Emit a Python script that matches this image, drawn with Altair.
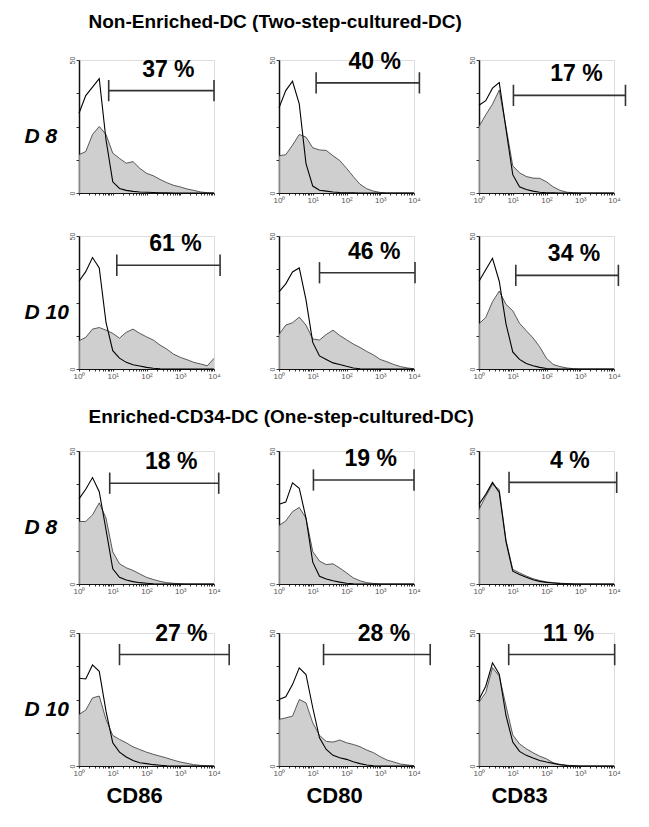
import altair as alt
import pandas as pd

FONT = "Liberation Sans"

# log10 fluorescence bins (10^0 .. 10^4)
LOG_BINS = [0.0, 0.2, 0.4, 0.6, 0.8, 1.0, 1.2, 1.4, 1.6, 1.8, 2.0,
            2.2, 2.4, 2.6, 2.8, 3.0, 3.2, 3.4, 3.6, 3.8, 4.0]

# Non-enriched, D8
ISO_A = [30, 36.6, 39.8, 43, 20, 4.2, 1.7, 1.0, 0.6, 0.4, 0.3, 0.2, 0.1, 0.1, 0, 0, 0, 0, 0, 0, 0]
STAIN_A = [14.4, 15.6, 22, 25, 22, 15, 13, 11.2, 11.8, 9.3, 7.4, 6.5, 5.1, 3.9, 2.9, 2.3, 1.5, 1.0, 0.4, 0.1, 0]
ISO_B = [32, 38.5, 42, 33.5, 11, 2.6, 1.0, 0.7, 0.4, 0.2, 0.1, 0.1, 0, 0, 0, 0, 0, 0, 0, 0, 0]
STAIN_B = [14, 14.4, 18, 22, 21, 17, 16.2, 16, 14, 12.2, 9.3, 6.2, 3.3, 1.6, 0.7, 0.2, 0, 0, 0, 0, 0]
ISO_C = [33, 34.7, 39.4, 41.5, 24, 6.9, 2.3, 1.3, 0.7, 0.3, 0.1, 0.1, 0, 0, 0, 0, 0, 0, 0, 0, 0]
STAIN_C = [25, 29.4, 33.4, 38.7, 24.8, 10.2, 7.6, 6.2, 5.6, 5.5, 4.2, 2.3, 1.0, 0.3, 0.1, 0, 0, 0, 0, 0, 0]
# Non-enriched, D10
ISO_D = [33, 36.6, 41.9, 38, 17.5, 6.9, 4.1, 2.5, 1.6, 1.1, 0.6, 0.3, 0.1, 0, 0, 0, 0, 0, 0, 0, 0]
STAIN_D = [10.6, 11.9, 15, 15.6, 14.6, 13.4, 11.6, 13.8, 15, 13.4, 12.1, 10.9, 9, 7.5, 5.6, 4.4, 3.5, 2.5, 1.9, 1.2, 4]
ISO_E = [29, 32, 36.5, 38, 26, 10, 4.9, 3.6, 2.3, 1.7, 1.0, 0.4, 0.1, 0, 0, 0, 0, 0, 0, 0, 0]
STAIN_E = [13, 16.5, 17.4, 19.5, 16.5, 11.3, 10.9, 13, 14.6, 12.6, 11, 9.4, 8.1, 6.6, 5.3, 3.6, 2.7, 1.7, 0.9, 0.4, 0.1]
ISO_F = [33, 37.3, 41.6, 33, 17, 6.4, 3.6, 2.1, 1.2, 0.6, 0.2, 0.1, 0, 0, 0, 0, 0, 0, 0, 0, 0]
STAIN_F = [17, 19.4, 25.3, 29.3, 24.3, 21.9, 17.2, 14.4, 11.7, 8.3, 4, 1.7, 0.9, 0.4, 0.1, 0, 0, 0, 0, 0, 0]
# Enriched CD34, D8
ISO_G = [32, 35.6, 40, 34.7, 20.4, 5.7, 2.5, 1.5, 0.9, 0.5, 0.3, 0.1, 0, 0, 0, 0, 0, 0, 0, 0, 0]
STAIN_G = [23.5, 23.5, 26, 30.5, 24.8, 12.1, 7.6, 6.1, 5.1, 3.8, 2.5, 1.7, 1.0, 0.5, 0.25, 0.1, 0, 0, 0, 0, 0]
ISO_H = [30, 30.8, 38, 36, 24.8, 8.2, 2.9, 1.9, 1.2, 0.7, 0.3, 0.1, 0, 0, 0, 0, 0, 0, 0, 0, 0]
STAIN_H = [22, 23.7, 27.2, 28.8, 24.8, 12.2, 8.6, 7.3, 7.6, 6, 4.2, 2.3, 1.2, 0.5, 0.2, 0, 0, 0, 0, 0, 0]
ISO_I = [30, 33.7, 38.2, 34.4, 15.9, 4.8, 3.6, 2.5, 1.6, 1.0, 0.6, 0.4, 0.2, 0.1, 0, 0, 0, 0, 0, 0, 0]
STAIN_I = [28, 33, 37.5, 35.5, 16.5, 5.5, 4.2, 3.0, 2.0, 1.3, 0.8, 0.5, 0.3, 0.15, 0.05, 0, 0, 0, 0, 0, 0]
# Enriched CD34, D10
ISO_J = [33, 32.7, 38, 35.6, 20.6, 8.7, 5.2, 3.4, 2.1, 1.2, 0.9, 0.5, 0.3, 0.1, 0, 0, 0, 0, 0, 0, 0]
STAIN_J = [19.4, 21, 25.6, 26.3, 17.5, 11.5, 10, 8.7, 7.2, 6.2, 5.2, 4.4, 3.7, 3, 2.2, 1.5, 1.0, 0.5, 0.25, 0.1, 0]
ISO_K = [25, 26, 30.6, 36.9, 34.4, 21.9, 10.6, 6.2, 4, 3.1, 2.5, 1.6, 0.9, 0.4, 0.1, 0, 0, 0, 0, 0, 0]
STAIN_K = [17.5, 18.1, 18.75, 25, 23.75, 16.25, 11.5, 9.25, 9, 9.75, 8.75, 8.1, 7.25, 6, 5, 3.5, 2.25, 1.5, 0.75, 0.4, 0.1]
ISO_L = [25, 30, 38.8, 34.5, 18.9, 9, 5.5, 4, 3, 2.1, 1.5, 1.0, 0.5, 0.2, 0.1, 0, 0, 0, 0, 0, 0]
STAIN_L = [24, 27.6, 37, 33.8, 22.6, 11.7, 8.3, 6.5, 5, 3.7, 2.7, 1.2, 0.6, 0.3, 0.1, 0, 0, 0, 0, 0, 0]

ISO = [ISO_A, ISO_B, ISO_C, ISO_D, ISO_E, ISO_F, ISO_G, ISO_H, ISO_I, ISO_J, ISO_K, ISO_L]
STAIN = [STAIN_A, STAIN_B, STAIN_C, STAIN_D, STAIN_E, STAIN_F,
         STAIN_G, STAIN_H, STAIN_I, STAIN_J, STAIN_K, STAIN_L]

# marker gates (log10 start, log10 end, count level) and positive percentages
GATE_START = [0.88, 1.10, 1.02, 1.12, 1.20, 1.09, 0.91, 1.02, 0.89, 1.20, 1.32, 0.88]
GATE_END = [4.00, 4.16, 4.34, 4.18, 4.03, 4.13, 4.14, 4.00, 4.08, 4.45, 4.48, 4.02]
GATE_LEVEL = [38.5, 41.4, 36.7, 39.0, 36.2, 35.2, 37.9, 39.1, 38.2, 41.9, 41.9, 41.9]
PERCENT = [37, 40, 17, 61, 46, 34, 18, 19, 4, 27, 28, 11]

ROW_LABELS = ["D 8", "D 10", "D 8", "D 10"]
COL_LABELS = ["CD86", "CD80", "CD83"]
COL_LABEL_X = [55, 55, 40]
SECTION_TITLES = ["Non-Enriched-DC (Two-step-cultured-DC)",
                  "Enriched-CD34-DC (One-step-cultured-DC)"]

W, H = 135, 133
XTICKS = [m * 10 ** k for k in range(4) for m in range(1, 10)] + [10000]
XLABEL = ("datum.value == 1 ? '10\u2070' : datum.value == 10 ? '10\u00b9' : "
          "datum.value == 100 ? '10\u00b2' : datum.value == 1000 ? '10\u00b3' : "
          "datum.value == 10000 ? '10\u2074' : ''")


def panel(i, row, col):
    hist = pd.DataFrame({
        "fi": [10 ** v for v in LOG_BINS],
        "iso": ISO[i],
        "stain": STAIN[i],
    })
    s, e, g = GATE_START[i], GATE_END[i], GATE_LEVEL[i]
    gate = pd.DataFrame({
        "x1": [10 ** s, 10 ** s, 10 ** e],
        "x2": [10 ** e, 10 ** s, 10 ** e],
        "y1": [g, g - 4, g - 4],
        "y2": [g, g + 4, g + 4],
    })
    label = pd.DataFrame({
        "tx": [10 ** ((s + e) / 2)],
        "ty": [g],
        "txt": [f"{PERCENT[i]} %"],
    })

    xaxis_kw = dict(values=XTICKS, labelExpr=XLABEL, tickSize=2, tickColor="#333",
                    domainColor="#111", domainWidth=1, labelFontSize=8,
                    labelColor="#555", labelFont=FONT, labelFlush=False,
                    labelOverlap=False, labelPadding=1, grid=False,
                    labels=not (row == 0 and col == 0))
    if row == 3:
        xaxis_kw.update(title=COL_LABELS[col], titleFont=FONT, titleFontSize=22,
                        titleFontWeight="bold", titleColor="black", titlePadding=8,
                        titleX=COL_LABEL_X[col], titleAlign="center")
    yaxis_kw = dict(values=[0, 12.5, 25, 37.5, 50],
                    labelExpr="datum.value == 0 || datum.value == 50 ? datum.label : ''",
                    labelAngle=270, tickSize=3, tickColor="#333", domainColor="#111",
                    domainWidth=1.5, labelFontSize=7, labelColor="#555", labelFont=FONT,
                    labelPadding=1, grid=False)
    if col == 0:
        yaxis_kw.update(title=ROW_LABELS[row], titleAngle=0, titleFont=FONT,
                        titleFontSize=21, titleFontWeight="bold", titleFontStyle="italic",
                        titleColor="black", titleAlign="left", titleBaseline="middle",
                        titleX=-55, titleY=76)
    xtitle = COL_LABELS[col] if row == 3 else ""
    ytitle = ROW_LABELS[row] if col == 0 else ""
    xs = alt.Scale(type="log", domain=[1, 10000])
    ys = alt.Scale(domain=[0, 50])

    def X(f):
        return alt.X(f, scale=xs, axis=alt.Axis(**xaxis_kw), title=xtitle)

    def Y(f):
        return alt.Y(f, scale=ys, axis=alt.Axis(**yaxis_kw), title=ytitle)

    area = alt.Chart(hist).mark_area(
        color="#bbbbbb", line={"color": "#333333", "strokeWidth": 0.8}
    ).encode(x=X("fi:Q"), y=Y("stain:Q"))
    iso = alt.Chart(hist).mark_line(color="black", strokeWidth=1.1).encode(
        x=X("fi:Q"), y=Y("iso:Q"))
    rule = alt.Chart(gate).mark_rule(color="#333", strokeWidth=1.6).encode(
        x=X("x1:Q"), x2="x2:Q", y=Y("y1:Q"), y2="y2:Q")
    text = alt.Chart(label).mark_text(
        font=FONT, fontSize=23, fontWeight="bold", color="black",
        dx=7, dy=-21, align="center", baseline="middle"
    ).encode(x=X("tx:Q"), y=Y("ty:Q"), text="txt:N")
    return alt.layer(area, iso, rule, text).properties(width=W, height=H)


rows = []
for r in range(4):
    panels = [panel(r * 3 + c, r, c) for c in range(3)]
    kw = dict(spacing=65, bounds="flush")
    if r in (0, 2):
        kw["title"] = alt.TitleParams(SECTION_TITLES[r // 2], font=FONT, fontSize=19,
                                      fontWeight="bold", color="black", anchor="start",
                                      dx=65, offset=18 if r == 0 else 20)
    rows.append(alt.hconcat(*panels, **kw))

chart = alt.vconcat(*rows, spacing=26).properties(
    padding={"left": 15, "top": 5, "right": 5, "bottom": 5}
).configure_view(stroke=None).configure(background="white")

chart.save("out.html", embed_options={"renderer": "svg", "actions": False})
